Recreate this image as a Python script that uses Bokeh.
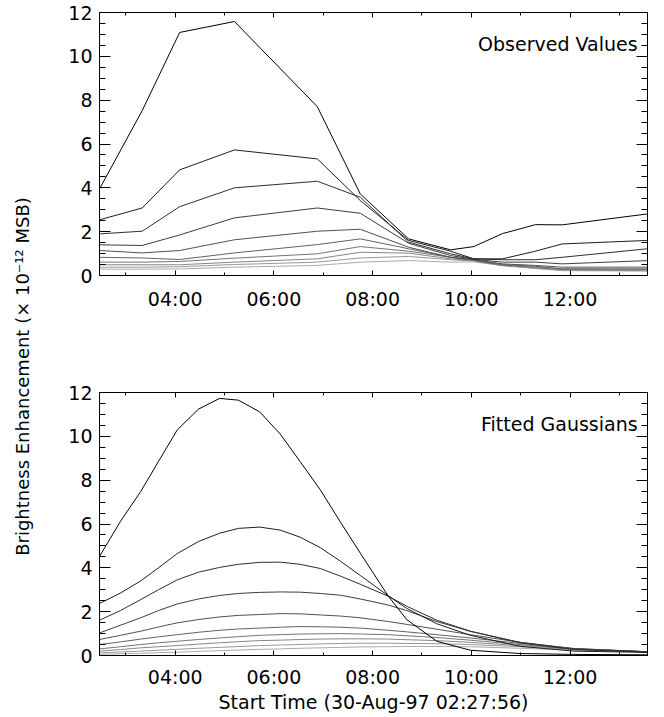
from math import pi
from bokeh.plotting import figure
from bokeh.layouts import row, column
from bokeh.models import Range1d, FixedTicker, LinearAxis, Label, CustomJSTickFormatter
from bokeh.embed import file_html
from bokeh.resources import INLINE

FONT = "DejaVu Sans"
FS = "19px"

# ---------------- data (hours after 00:00 UT, 30-Aug-97) ----------------
t_obs = [2.466, 3.33, 4.09, 5.20, 6.88, 7.75, 8.73, 9.58, 10.05, 10.63, 11.30, 11.84, 13.57]
obs_1 = [3.95, 7.52, 11.09, 11.59, 7.70, 3.72, 1.67, 1.17, 1.32, 1.91, 2.32, 2.31, 2.81]
obs_2 = [2.54, 3.08, 4.82, 5.73, 5.32, 3.42, 1.60, 1.11, 0.76, 0.76, 1.11, 1.44, 1.60]
obs_3 = [1.90, 2.02, 3.14, 4.00, 4.30, 3.57, 1.52, 0.99, 0.76, 0.72, 0.72, 0.83, 1.22]
obs_4 = [1.40, 1.37, 1.85, 2.63, 3.08, 2.84, 1.47, 0.91, 0.74, 0.61, 0.61, 0.53, 0.68]
obs_5 = [1.14, 1.03, 1.14, 1.63, 2.02, 2.11, 1.29, 0.83, 0.72, 0.53, 0.46, 0.38, 0.38]
obs_6 = [0.83, 0.80, 0.73, 1.03, 1.41, 1.67, 1.22, 0.83, 0.70, 0.50, 0.42, 0.30, 0.30]
obs_7 = [0.61, 0.61, 0.64, 0.79, 0.99, 1.32, 1.11, 0.83, 0.70, 0.46, 0.38, 0.30, 0.28]
obs_8 = [0.49, 0.49, 0.49, 0.61, 0.76, 1.06, 1.02, 0.76, 0.68, 0.46, 0.35, 0.27, 0.25]
obs_9 = [0.38, 0.38, 0.40, 0.50, 0.61, 0.80, 0.87, 0.72, 0.66, 0.46, 0.33, 0.24, 0.22]
obs_10 = [0.29, 0.29, 0.30, 0.38, 0.46, 0.61, 0.68, 0.61, 0.62, 0.45, 0.32, 0.22, 0.20]

t_fit = [2.466, 2.89, 3.30, 3.66, 4.04, 4.47, 4.90, 5.28, 5.71, 6.13, 6.53, 6.94, 7.35,
         7.75, 8.32, 8.69, 9.30, 9.98, 10.99, 12.07, 13.57]
fit_1 = [4.52, 6.12, 7.48, 8.85, 10.29, 11.24, 11.73, 11.65, 11.12, 10.10, 8.85, 7.56, 6.08,
         4.67, 2.70, 1.64, 0.65, 0.24, 0.09, 0.05, 0.03]
fit_2 = [2.37, 2.85, 3.40, 4.00, 4.65, 5.20, 5.58, 5.80, 5.86, 5.72, 5.40, 4.92, 4.30,
         3.65, 2.72, 2.15, 1.45, 0.92, 0.42, 0.20, 0.14]
fit_3 = [1.61, 2.05, 2.55, 3.00, 3.45, 3.80, 4.02, 4.16, 4.25, 4.26, 4.16, 3.97, 3.62,
         3.25, 2.70, 2.25, 1.61, 1.11, 0.58, 0.27, 0.16]
fit_4 = [1.03, 1.38, 1.72, 2.05, 2.35, 2.58, 2.74, 2.83, 2.88, 2.90, 2.89, 2.83, 2.75,
         2.58, 2.30, 2.05, 1.55, 1.10, 0.60, 0.30, 0.17]
fit_5 = [0.73, 0.92, 1.11, 1.30, 1.49, 1.64, 1.76, 1.83, 1.87, 1.91, 1.90, 1.85, 1.80,
         1.72, 1.55, 1.42, 1.20, 0.95, 0.60, 0.32, 0.17]
fit_6 = [0.50, 0.62, 0.75, 0.85, 0.95, 1.06, 1.15, 1.21, 1.25, 1.29, 1.32, 1.31, 1.29,
         1.25, 1.15, 1.08, 0.95, 0.80, 0.55, 0.32, 0.17]
fit_7 = [0.30, 0.40, 0.50, 0.58, 0.65, 0.73, 0.80, 0.86, 0.92, 0.95, 0.98, 0.99, 1.00,
         0.98, 0.95, 0.90, 0.82, 0.70, 0.50, 0.30, 0.17]
fit_8 = [0.20, 0.27, 0.35, 0.40, 0.45, 0.52, 0.58, 0.63, 0.68, 0.70, 0.73, 0.75, 0.76,
         0.76, 0.75, 0.72, 0.68, 0.60, 0.45, 0.30, 0.17]
fit_9 = [0.12, 0.16, 0.20, 0.24, 0.28, 0.33, 0.37, 0.41, 0.45, 0.48, 0.50, 0.53, 0.55,
         0.56, 0.56, 0.55, 0.54, 0.50, 0.40, 0.27, 0.16]
fit_10 = [0.05, 0.08, 0.10, 0.13, 0.15, 0.19, 0.22, 0.25, 0.28, 0.30, 0.33, 0.35, 0.37,
          0.39, 0.40, 0.41, 0.41, 0.40, 0.33, 0.25, 0.16]

obs_series = [obs_1, obs_2, obs_3, obs_4, obs_5, obs_6, obs_7, obs_8, obs_9, obs_10]
fit_series = [fit_1, fit_2, fit_3, fit_4, fit_5, fit_6, fit_7, fit_8, fit_9, fit_10]
line_colors = ["#000000", "#1e1e1e", "#2e2e2e", "#3e3e3e", "#505050",
               "#626262", "#747474", "#868686", "#989898", "#aaaaaa"]

x_major = [4, 6, 8, 10, 12]
x_minor = [3, 5, 7, 9, 11, 13]
x_tick_labels = ["04:00", "06:00", "08:00", "10:00", "12:00"]
y_major = [0, 2, 4, 6, 8, 10, 12]
y_minor = [0.5, 1, 1.5, 2.5, 3, 3.5, 4.5, 5, 5.5, 6.5, 7, 7.5, 8.5, 9, 9.5, 10.5, 11, 11.5]
X_START, X_END = 2.4656, 13.57
Y_START, Y_END = 0, 12

x_title = "Start Time (30-Aug-97 02:27:56)"
y_title = "Brightness Enhancement (\u00d7 10\u207b\u00b9\u00b2 MSB)"
panel_titles = ["Observed Values", "Fitted Gaussians"]


def style_axis(ax, is_x, show_labels, standoff=12):
    if is_x:
        ax.ticker = FixedTicker(ticks=x_major, minor_ticks=x_minor)
        ax.major_tick_in, ax.minor_tick_in = 5, 3
    else:
        ax.ticker = FixedTicker(ticks=y_major, minor_ticks=y_minor)
        ax.major_tick_in, ax.minor_tick_in = 11, 6
    ax.major_tick_out = 0
    ax.minor_tick_out = 0
    ax.axis_line_color = "black"
    ax.major_tick_line_color = "black"
    ax.minor_tick_line_color = "black"
    if show_labels:
        ax.major_label_text_font = FONT
        ax.major_label_text_font_size = FS
        ax.major_label_text_color = "black"
        ax.major_label_standoff = standoff if is_x else 7
        if is_x:
            ax.major_label_overrides = {k: v for k, v in zip(x_major, x_tick_labels)}
    else:
        ax.formatter = CustomJSTickFormatter(code="return ''")
        ax.major_label_text_font_size = "1px"
        ax.major_label_standoff = 0


def make_panel(t, series, title, height, b_top, b_bottom, with_xlabel, x_standoff):
    p = figure(width=607, height=height,
               x_range=Range1d(X_START, X_END), y_range=Range1d(Y_START, Y_END),
               output_backend="svg", toolbar_location=None,
               min_border_left=51, min_border_right=8,
               min_border_top=b_top, min_border_bottom=b_bottom)
    p.grid.visible = False
    p.outline_line_color = "black"
    p.background_fill_color = "white"
    p.border_fill_color = "white"
    style_axis(p.below[0], True, True, x_standoff)
    style_axis(p.left[0], False, True)
    top_ax = LinearAxis()
    right_ax = LinearAxis()
    style_axis(top_ax, True, False)
    style_axis(right_ax, False, False)
    p.add_layout(top_ax, "above")
    p.add_layout(right_ax, "right")
    if with_xlabel:
        ax = p.below[0]
        ax.axis_label = x_title
        ax.axis_label_text_font = FONT
        ax.axis_label_text_font_size = FS
        ax.axis_label_text_font_style = "normal"
        ax.axis_label_text_color = "black"
        ax.axis_label_standoff = 0
    for ys, c in reversed(list(zip(series, line_colors))):
        p.line(t, ys, line_color=c, line_width=1)
    p.add_layout(Label(x=13.37, y=10.57, text=title, text_align="right",
                       text_baseline="middle", text_font=FONT, text_font_size=FS,
                       text_color="black"))
    return p


TOP_H, BOT_H = 325, 390
TOTAL_H = TOP_H + BOT_H
top = make_panel(t_obs, obs_series, panel_titles[0], TOP_H, 12, 50, False, 12)
bottom = make_panel(t_fit, fit_series, panel_titles[1], BOT_H, 67, 59, True, 10)

lab = figure(width=48, height=TOTAL_H, x_range=Range1d(0, 1), y_range=Range1d(0, 1),
             output_backend="svg", toolbar_location=None, min_border=0,
             x_axis_location=None, y_axis_location=None)
lab.grid.visible = False
lab.outline_line_color = None
lab.add_layout(Label(x=22 / 48, y=(TOTAL_H - 376) / TOTAL_H, text=y_title, angle=pi / 2,
                     text_align="center", text_baseline="middle", text_font=FONT,
                     text_font_size="18px", text_color="black"))

layout = row(lab, column(top, bottom))
open("out.html", "w").write(file_html(layout, INLINE))
